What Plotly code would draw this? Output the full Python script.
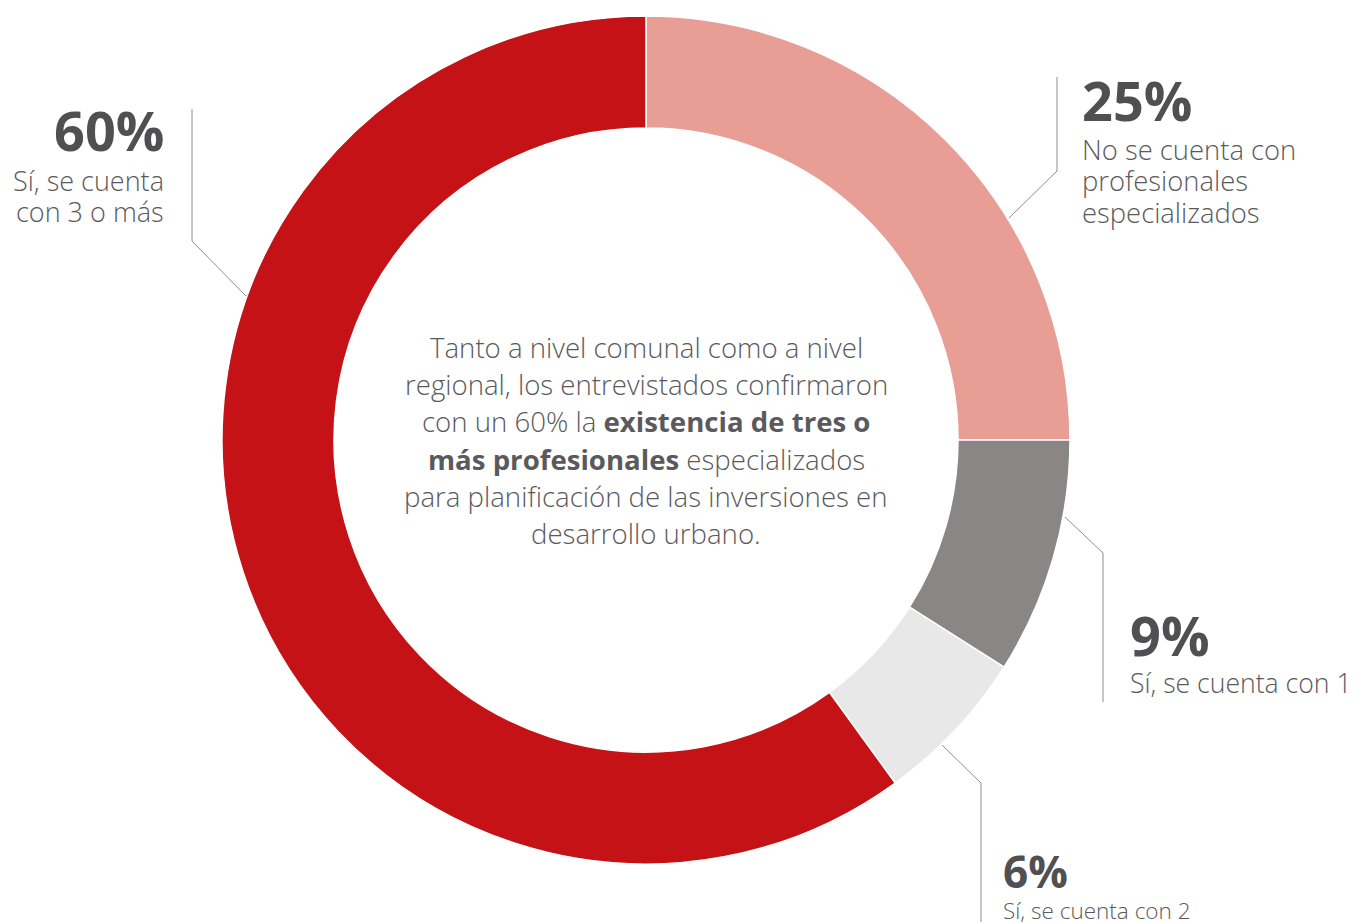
import plotly.graph_objects as go

# The page body has an 8px margin; the figure is sized and placed to compensate.
OFF = 8
W, H = 1356 - OFF, 922 - OFF

# ---- data ----
categories = ["No se cuenta con profesionales especializados",
              "Sí, se cuenta con 1",
              "Sí, se cuenta con 2",
              "Sí, se cuenta con 3 o más"]
values = [25, 9, 6, 60]
pct_labels = ["25%", "9%", "6%", "60%"]
desc_lines = [["No se cuenta con", "profesionales", "especializados"],
              ["Sí, se cuenta con 1"],
              ["Sí, se cuenta con 2"],
              ["Sí, se cuenta", "con 3 o más"]]
colors = ["#E89E94", "#8A8685", "#E8E8E8", "#C41216"]
center_lines = ["Tanto a nivel comunal como a nivel",
                "regional, los entrevistados confirmaron",
                "con un 60% la <b>existencia de tres o</b>",
                "<b>más profesionales</b> especializados",
                "para planificación de las inversiones en",
                "desarrollo urbano."]

# ---- layout config (screen pixels) ----
cx, cy, R, r_in = 646, 440, 424, 312
TXT = "#5A5A5C"
FONT = "Open Sans"
PAD = 3  # annotation inner padding compensation

def px(x):
    return (x - OFF) / W

def py(y):
    return 1 - (y - OFF) / H

fig = go.Figure(go.Pie(
    values=values, labels=categories, sort=False, direction="clockwise",
    rotation=0, hole=r_in / R, textinfo="none", hoverinfo="label+percent",
    marker=dict(colors=colors, line=dict(color="white", width=1.5)),
    domain=dict(x=[px(cx - R), px(cx + R)], y=[py(cy + R), py(cy - R)]),
    showlegend=False,
))

# label placement: (x, anchor, pct baseline, first desc baseline, pct size, desc size, desc spacing)
label_cfg = [
    (1083, "left", 122, 159, 54, 27.4, 31.5),
    (1131, "left", 657, 693, 54, 26.6, 31.5),
    (1004, "left", 889, 919, 44, 22.5, 27),
    (163, "right", 152, 190, 54, 27, 31),
]
leaders = [
    [(1009, 218), (1057, 171), (1057, 77)],
    [(1065, 517), (1103, 553), (1103, 702)],
    [(942, 745), (981, 783), (981, 922)],
    [(246, 296), (192, 241), (192, 109)],
]

annotations = []
shapes = []

def add_text(text, x, baseline, size, anchor, weight, k=0.36, color=TXT):
    if anchor == "left":
        x -= PAD
    elif anchor == "right":
        x += PAD
    annotations.append(dict(
        text=text, x=px(x), y=py(baseline - k * size), xref="paper", yref="paper",
        xanchor=anchor, yanchor="middle", showarrow=False, align=anchor,
        font=dict(family=FONT, size=size, color=color, weight=weight),
    ))

for i, (x, anchor, pb, db, ps, ds, sp) in enumerate(label_cfg):
    add_text(pct_labels[i], x, pb, ps, anchor, 700, k=0.41, color="#505052")
    for j, line in enumerate(desc_lines[i]):
        add_text(line, x, db + j * sp, ds, anchor, 300)

for pts in leaders:
    path = "M " + " L ".join(f"{px(a)},{py(b)}" for a, b in pts)
    shapes.append(dict(type="path", path=path, xref="paper", yref="paper",
                       line=dict(color="#8E8E8E", width=1)))

for j, line in enumerate(center_lines):
    add_text(line, cx, 357 + j * 37.2, 27.6, "center", 300)

fig.update_layout(
    width=W, height=H, margin=dict(l=0, r=0, t=0, b=0),
    paper_bgcolor="white", plot_bgcolor="white",
    annotations=annotations, shapes=shapes,
)
fig.write_html("out.html")
